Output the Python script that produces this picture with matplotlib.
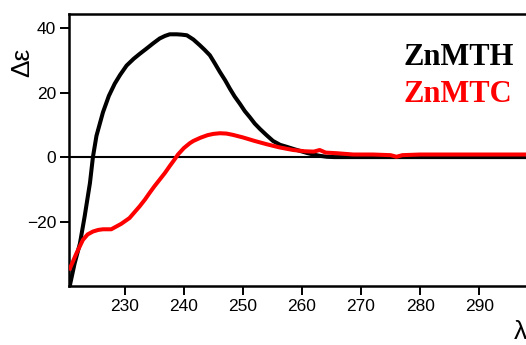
import matplotlib
matplotlib.use("Agg")
import matplotlib.pyplot as plt

plt.rcParams['font.family'] = ['Liberation Sans', 'DejaVu Sans']

# CD spectra (wavelength in nm, delta epsilon)
wl_mth = [220.7, 221.5, 222.4, 223.2, 224.1, 224.6, 225.2, 226.3, 227.3, 228.3,
          229.2, 230.3, 231.5, 232.5, 233.7, 234.8, 235.9, 236.8, 237.6, 238.8,
          239.6, 240.5, 241.6, 242.7, 243.5, 244.4, 245.2, 246.1, 247.0, 247.8,
          248.6, 249.5, 250.3, 251.2, 252.0, 252.9, 254.0, 255.1, 256.3, 257.4,
          258.6, 259.7, 260.8, 261.9, 263.0, 264.2, 265.5, 270, 280, 290, 302]
de_mth = [-39.8, -33, -26.8, -18.4, -8, 0, 6.6, 13.9, 19, 22.8,
          25.5, 28.4, 30.5, 32, 33.7, 35.3, 36.8, 37.6, 38.1, 38.1,
          38, 37.8, 36.5, 34.7, 33.3, 31.6, 29.2, 26.4, 23.8, 21.2,
          18.8, 16.5, 14.3, 12.3, 10.4, 8.7, 6.8, 5.0, 3.8, 3.2,
          2.5, 1.9, 1.3, 0.8, 0.4, 0.1, 0, 0, 0, 0, 0]

wl_mtc = [220.7, 221.8, 222.9, 223.7, 224.6, 225.5, 226.3, 227.7, 228.5, 229.4,
          230.8, 231.6, 232.5, 233.4, 234.2, 235.0, 235.9, 236.8, 237.6, 238.4,
          239.0, 240.0, 241.0, 241.6, 242.8, 244.0, 245.0, 246.1, 247.2, 248.3,
          250.0, 252.0, 254.0, 256.2, 258.5, 260.5, 262.0, 263.0, 264.0, 265.9,
          268.7, 272, 275, 276, 277, 280, 290, 302]
de_mtc = [-34.6, -29.9, -25.7, -24, -23.1, -22.6, -22.4, -22.4, -21.6, -20.7,
          -18.9, -17.2, -15.3, -13.2, -11.1, -9.1, -7.0, -4.9, -2.8, -0.8,
          0.8, 2.8, 4.3, 5.0, 6.0, 6.8, 7.2, 7.4, 7.3, 6.9,
          6.1, 5.0, 4.0, 3.0, 2.2, 1.8, 1.7, 2.2, 1.4, 1.2,
          0.8, 0.8, 0.6, 0.1, 0.6, 0.8, 0.8, 0.8]

xticks = [230, 240, 250, 260, 270, 280, 290]
yticks = [-20, 0, 20, 40]

fig = plt.figure(figsize=(5.26, 3.45), dpi=100)
# axes runs past the right edge, like the cropped original
ax = fig.add_axes([69.3/526, 1 - 286/345, 476/526, 272/345])

ax.axhline(0, color='black', lw=1.5, zorder=1)
ax.plot(wl_mth, de_mth, color='black', lw=2.9, zorder=2)
ax.plot(wl_mtc, de_mtc, color='red', lw=2.9, zorder=3)

ax.set_xlim(220.6, 301.2)
ax.set_ylim(-40, 44.4)
ax.set_xticks(xticks)
ax.set_yticks(yticks)
ax.tick_params(direction='out', length=6.5, width=1.4, labelsize=12.5, pad=3)
ax.spines['right'].set_visible(False)
for s in ['left', 'bottom', 'top']:
    ax.spines[s].set_linewidth(1.8)

fig.text(22/526, 1 - 62/345, 'Δε', rotation=90, ha='center', va='center', fontsize=19)
fig.text(514/526, 1 - 332/345, 'λ (nm)', ha='left', va='center', fontsize=19)

fig.text(403/526, 1 - 65/345, 'ZnMTH', color='black', fontsize=22, fontweight='bold',
         family='Liberation Serif', ha='left', va='baseline')
fig.text(403/526, 1 - 101.7/345, 'ZnMTC', color='red', fontsize=22, fontweight='bold',
         family='Liberation Serif', ha='left', va='baseline')

fig.savefig('out.png', dpi=100)
